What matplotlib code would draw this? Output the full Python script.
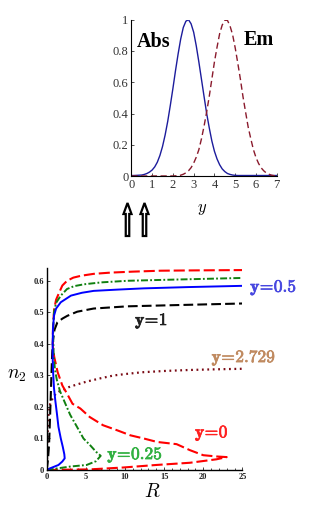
import numpy as np
import matplotlib
matplotlib.use('Agg')
from matplotlib import pyplot as plt
from matplotlib import patheffects
from matplotlib.patches import FancyArrow

plt.rcParams['mathtext.fontset'] = 'cm'
plt.rcParams['lines.scale_dashes'] = False

# top panel: absorption / emission spectra vs y (read every 0.125)
spec_y = np.linspace(0, 7, 57)
abs_vals = [0.005, 0.005, 0.006, 0.007, 0.008, 0.012, 0.018, 0.027, 0.04, 0.06, 0.09, 0.133, 0.19,
            0.263, 0.35, 0.452, 0.56, 0.674, 0.78, 0.876, 0.95, 0.99, 1.0, 0.974, 0.92, 0.833, 0.73,
            0.62, 0.51, 0.402, 0.31, 0.226, 0.16, 0.111, 0.074, 0.047, 0.03, 0.018, 0.012, 0.008, 0.006,
            0.005, 0.005, 0.005, 0.005, 0.005, 0.005, 0.005, 0.005, 0.005, 0.005, 0.005, 0.005, 0.005,
            0.005, 0.005, 0.005]
em_vals = [0.002, 0.002, 0.002, 0.002, 0.002, 0.002, 0.002, 0.002, 0.002, 0.002, 0.002, 0.002, 0.002,
           0.002, 0.002, 0.002, 0.002, 0.003, 0.004, 0.007, 0.013, 0.022, 0.035, 0.055, 0.084, 0.122,
           0.17, 0.239, 0.32, 0.41, 0.51, 0.62, 0.73, 0.824, 0.91, 0.966, 0.996, 0.996, 0.96, 0.904,
           0.82, 0.722, 0.62, 0.508, 0.41, 0.314, 0.24, 0.171, 0.12, 0.082, 0.054, 0.035, 0.021, 0.013,
           0.007, 0.004, 0.002]

# bottom panel: n2 vs R for several y
r_y0 = [0, 2, 5.5, 9.8, 14.0, 18.3, 21.7, 23.0, 21.7, 20.0, 18.3, 16.6, 14.1, 12.4, 10.7, 9.0, 7.2, 5.5,
        4.3, 3.3, 2.6, 2.0, 1.4, 0.95, 0.8, 0.78, 0.85, 0.95, 1.2, 1.6, 2.0, 2.6, 3.4, 4.4, 6.0, 8.2,
        11.0, 14.6, 19.0, 25]
n_y0 = [0, 0.001, 0.002, 0.008, 0.016, 0.023, 0.034, 0.041, 0.043, 0.047, 0.063, 0.082, 0.089, 0.10,
        0.11, 0.126, 0.142, 0.168, 0.195, 0.21, 0.242, 0.268, 0.31, 0.36, 0.39, 0.43, 0.47, 0.51, 0.54,
        0.563, 0.585, 0.60, 0.61, 0.616, 0.622, 0.626, 0.629, 0.632, 0.633, 0.634]

r_y025 = [0, 1.3, 3.0, 5.1, 6.3, 6.9, 6.3, 5.5, 4.7, 3.8, 3.0, 2.3, 1.7, 1.3, 1.05, 0.9, 0.82, 0.85,
          0.93, 1.2, 1.8, 2.6, 3.5, 4.8, 7.0, 10.3, 15, 20, 25]
n_y025 = [0, 0.005, 0.011, 0.016, 0.028, 0.045, 0.058, 0.08, 0.10, 0.14, 0.175, 0.215, 0.25, 0.285,
          0.32, 0.36, 0.42, 0.46, 0.50, 0.53, 0.553, 0.574, 0.583, 0.589, 0.595, 0.60, 0.603, 0.606, 0.609]

r_y05 = [0, 0.4, 1.5, 2.0, 2.3, 2.25, 2.05, 1.8, 1.5, 1.3, 1.1, 0.93, 0.82, 0.77, 0.76, 0.8, 0.93,
         1.2, 1.8, 3.1, 4.5, 6.0, 9.0, 12.4, 18, 25]
n_y05 = [0, 0.005, 0.016, 0.027, 0.037, 0.05, 0.074, 0.10, 0.137, 0.18, 0.22, 0.26, 0.31, 0.35, 0.40,
         0.45, 0.489, 0.512, 0.532, 0.553, 0.562, 0.568, 0.572, 0.576, 0.58, 0.584]

r_y1 = [0, 0.15, 0.3, 0.4, 0.5, 0.6, 0.7, 0.8, 1.0, 1.36, 2.0, 2.64, 3.9, 6.0, 10.3, 16.7, 25]
n_y1 = [0, 0.03, 0.08, 0.15, 0.22, 0.30, 0.37, 0.41, 0.445, 0.468, 0.48, 0.489, 0.502, 0.512, 0.519,
        0.523, 0.528]

r_y2729 = [0, 0.05, 0.1, 0.15, 0.25, 0.45, 0.8, 1.2, 1.6, 2.0, 2.85, 3.7, 5.2, 6.9, 8.6, 10.3, 12.2,
           15, 18, 21, 25]
n_y2729 = [0, 0.04, 0.09, 0.14, 0.18, 0.21, 0.23, 0.243, 0.249, 0.253, 0.263, 0.27, 0.281, 0.291,
           0.30, 0.305, 0.31, 0.314, 0.317, 0.319, 0.321]

fig = plt.figure(figsize=(3.12, 5.11), dpi=100)
serif = 'Liberation Serif'

# ---- top panel
ax1 = fig.add_axes([0.421, 0.655, 0.466, 0.3065])
ax1.plot(spec_y, abs_vals, color='#1c1c9c', lw=1.0)
ax1.plot(spec_y, em_vals, color='#8a1a2c', lw=1.0, dashes=[4.5, 2.5])
ax1.set_xlim(0, 7)
ax1.set_ylim(0, 1)
ax1.set_xticks(range(8))
ax1.set_yticks([0, 0.2, 0.4, 0.6, 0.8, 1])
ax1.set_yticklabels(['0', '0.2', '0.4', '0.6', '0.8', '1'])
for s in ['top', 'right']:
    ax1.spines[s].set_visible(False)
for s in ['left', 'bottom']:
    ax1.spines[s].set_linewidth(0.8)
ax1.tick_params(direction='in', length=2, width=0.6, labelsize=9, pad=2, colors='#333333')
for lab in ax1.get_xticklabels() + ax1.get_yticklabels():
    lab.set_fontfamily(serif)
ax1.text(0.04, 0.855, 'Abs', transform=ax1.transAxes, fontfamily=serif, fontweight='bold',
         fontsize=14.5, va='center', ha='left')
ax1.text(0.775, 0.87, 'Em', transform=ax1.transAxes, fontfamily=serif, fontweight='bold',
         fontsize=14.5, va='center', ha='left')
fig.text(202 / 312, 1 - 208 / 511, '$y$', fontsize=12, ha='center', va='center')

# ---- bottom panel
ax2 = fig.add_axes([0.1497, 0.0802, 0.627, 0.395])
ax2.plot(r_y2729, n_y2729, color='#7a0a14', lw=1.6, dashes=[1.3, 2.6])
ax2.plot(r_y1, n_y1, color='black', lw=1.5, dashes=[7, 3])
ax2.plot(r_y0, n_y0, color='#ff0000', lw=1.5, dashes=[8, 2.8])
ax2.plot(r_y025, n_y025, color='#108010', lw=1.4, dashes=[5, 1.6, 1.3, 1.6])
ax2.plot(r_y05, n_y05, color='#0000ff', lw=1.4)
ax2.set_xlim(0, 25)
ax2.set_ylim(0, 0.64)
ax2.set_xticks([0, 5, 10, 15, 20, 25])
ax2.set_xticks(np.arange(0, 26, 1), minor=True)
ax2.set_yticks([0, 0.1, 0.2, 0.3, 0.4, 0.5, 0.6])
ax2.set_yticklabels(['0', '0.1', '0.2', '0.3', '0.4', '0.5', '0.6'])
for s in ['top', 'right']:
    ax2.spines[s].set_visible(False)
for s in ['left', 'bottom']:
    ax2.spines[s].set_linewidth(1.0)
ax2.tick_params(direction='in', length=2.5, width=0.6, labelsize=6, pad=2, colors='#222222')
ax2.tick_params(which='minor', direction='in', length=1.5, width=0.5)
for lab in ax2.get_xticklabels() + ax2.get_yticklabels():
    lab.set_fontfamily(serif)
    lab.set_fontweight('bold')


def ylab(v):
    return r'$\mathbf{y}\!=\!\mathbf{' + v + '}$'


curve_labels = [
    (26.0, 0.581, '0.5', '#4848e0', 'left'),
    (13.4, 0.474, '1', '#202020', 'center'),
    (25.2, 0.358, '2.729', '#c08a60', 'center'),
    (21.1, 0.118, '0', '#ff2020', 'center'),
    (11.3, 0.0505, '0.25', '#30b040', 'center'),
]
for x, y, v, c, ha in curve_labels:
    ax2.text(x, y, ylab(v), color=c, ha=ha, va='center', fontsize=12.5, clip_on=False,
             path_effects=[patheffects.withStroke(linewidth=0.5, foreground=c)])
fig.text(152 / 312, 1 - 491 / 511, '$R$', fontsize=14, ha='center', va='center')
fig.text(17 / 312, 1 - 374 / 511, '$n_{2}$', fontsize=14, ha='center', va='center')

# ---- hollow arrows under the spectrum
ov = fig.add_axes([0, 0, 1, 1])
ov.set_xlim(0, 312)
ov.set_ylim(511, 0)
ov.axis('off')
ov.patch.set_alpha(0)
for xa in [127.5, 144.5]:
    ov.add_patch(FancyArrow(xa, 236, 0, -33, width=3.5, head_width=8, head_length=11,
                            length_includes_head=True, fc='white', ec='black', lw=1.6))

fig.savefig('out.png', dpi=100)
